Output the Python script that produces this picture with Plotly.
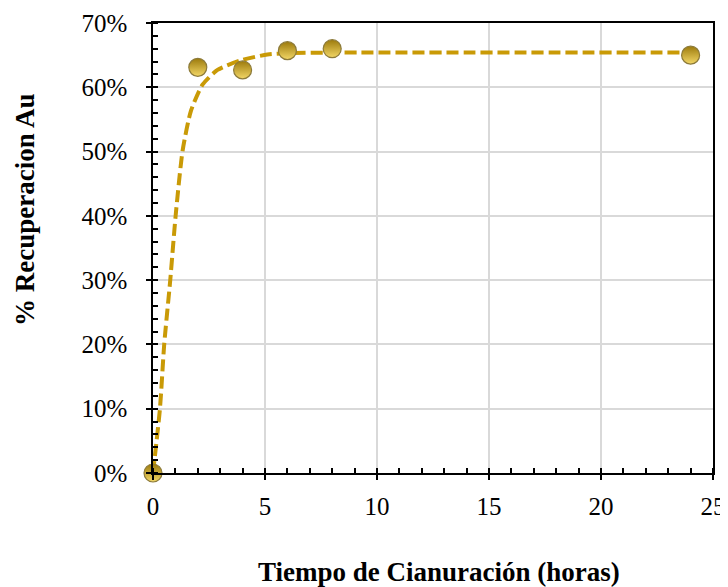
import plotly.graph_objects as go

# measured points
tiempo_h = [0, 2, 4, 6, 8, 24]
recuperacion = [0.0, 0.631, 0.627, 0.657, 0.660, 0.650]

# dashed fit curve
curva_x = [0, 0.31, 0.5, 0.77, 1.01, 1.32, 1.69, 2.21, 2.88, 3.92, 5.11, 6, 8, 24]
curva_y = [0.0, 0.10, 0.20, 0.30, 0.40, 0.501, 0.563, 0.604, 0.627, 0.642, 0.651, 0.653, 0.654, 0.654]

x_ticks = [0, 5, 10, 15, 20, 25]
y_ticks = [0, 0.1, 0.2, 0.3, 0.4, 0.5, 0.6, 0.7]

FONT = "Liberation Serif, Times New Roman, serif"
GOLD = "#C99A06"

# page body adds an 8px offset, so the figure is a bit smaller than the window
W, H = 720, 579
L, R, T, B = 145, 15, 15, 114
PW, PH = W - L - R, H - T - B

fig = go.Figure()

fig.add_trace(go.Scatter(
    x=curva_x, y=curva_y, mode="lines",
    line=dict(color=GOLD, width=4, dash="12px,5px", shape="spline", smoothing=0.6),
    hoverinfo="skip", showlegend=False,
))

fig.add_trace(go.Scatter(
    x=tiempo_h, y=recuperacion, mode="markers",
    marker=dict(size=18, color="#9C7A0C",
                gradient=dict(type="vertical", color="#F3D766"),
                line=dict(color="#8C7A3A", width=1.2)),
    cliponaxis=False, showlegend=False,
))

axis_common = dict(
    automargin=False, ticklabeloverflow="allow",
    showline=True, linecolor="black", linewidth=1.5, mirror=True,
    showgrid=True, gridcolor="#D9D9D9", gridwidth=1.5, zeroline=False,
    ticks="outside", ticklen=5, tickwidth=1.5, tickcolor="black",
    tickfont=dict(family=FONT, size=25, color="black"),
)

fig.update_layout(
    width=W, height=H,
    paper_bgcolor="white", plot_bgcolor="white",
    margin=dict(l=L, r=R, t=T, b=B),
    font=dict(family=FONT, color="black"),
    xaxis=dict(
        range=[0, 25], tickvals=x_ticks, ticklabelstandoff=5,
        minor=dict(ticks="inside", dtick=1, ticklen=5, tickwidth=1.5, tickcolor="black", showgrid=False),
        **axis_common,
    ),
    yaxis=dict(
        range=[0, 0.7], tickvals=y_ticks, tickformat=".0%", ticklabelstandoff=14,
        minor=dict(ticks="inside", dtick=0.02, ticklen=5, tickwidth=1.5, tickcolor="black", showgrid=False),
        **axis_common,
    ),
    # overlay axes so the major ticks cross the axis line
    xaxis2=dict(overlaying="x", matches="x", range=[0, 25], tickvals=x_ticks, ticks="inside",
                ticklen=5, tickwidth=1.5, tickcolor="black", showticklabels=False,
                showgrid=False, zeroline=False, showline=False, automargin=False),
    yaxis2=dict(overlaying="y", matches="y", range=[0, 0.7], tickvals=y_ticks, ticks="inside",
                ticklen=5, tickwidth=1.5, tickcolor="black", showticklabels=False,
                showgrid=False, zeroline=False, showline=False, automargin=False),
    annotations=[
        dict(text="<b>Tiempo de Cianuración (horas)</b>", xref="paper", yref="paper",
             x=(431 - L) / PW, y=-(564 - (H - B)) / PH, showarrow=False,
             xanchor="center", yanchor="middle", font=dict(family=FONT, size=27)),
        dict(text="<b>% Recuperacion Au</b>", xref="paper", yref="paper",
             x=-(L - 17) / PW, y=((H - B) - 202) / PH, showarrow=False, textangle=-90,
             xanchor="center", yanchor="middle", font=dict(family=FONT, size=27)),
    ],
)

# dummy trace to display the overlay axes
fig.add_trace(go.Scatter(x=[None], y=[None], xaxis="x2", yaxis="y2", showlegend=False, hoverinfo="skip"))

fig.write_html("out.html")
